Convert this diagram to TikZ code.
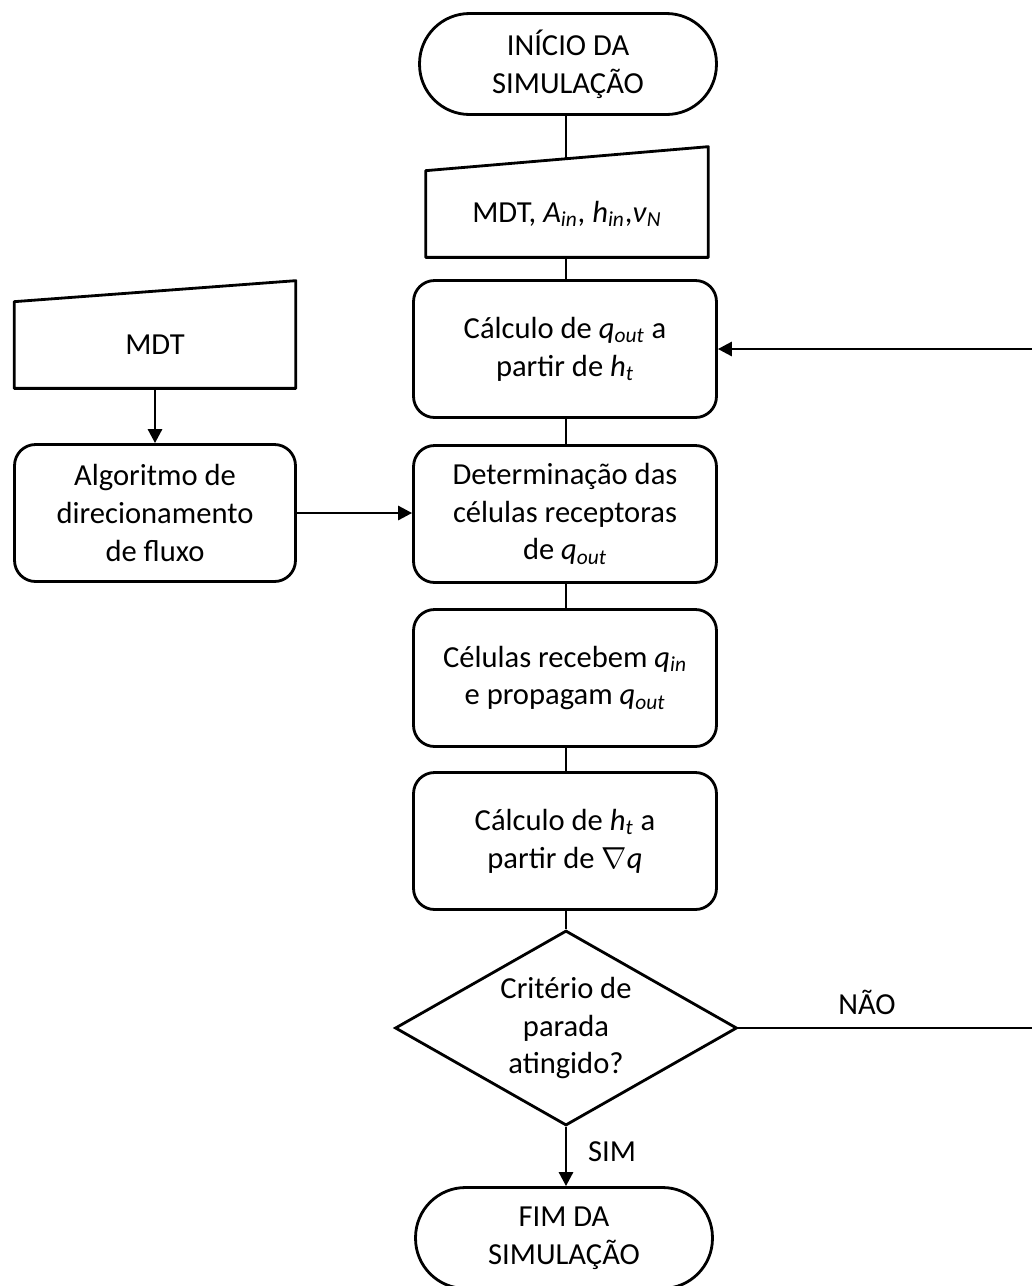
\documentclass[tikz,border=0pt]{standalone}
\usepackage{fontspec}
\setmainfont{Carlito}
\usetikzlibrary{shapes.geometric,arrows.meta}

% italic variable with italic subscript
\newcommand{\varsub}[2]{\textit{#1}\textsubscript{\textit{#2}}}

\begin{document}
\begin{tikzpicture}[x=0.02cm,y=-0.02cm,
  every node/.style={font=\fontsize{17.4pt}{21.5pt}\selectfont, align=center, inner sep=0pt},
  line/.style={line width=1.6pt, line join=round},
  arrow/.style={line, -{Triangle[length=8pt,width=8pt]}},
  procbox/.style={draw, line width=1.6pt, rounded corners=0.42cm,
    minimum width=6.06cm, minimum height=2.74cm},
  terminal/.style={draw, line width=1.6pt, rounded corners=1.0cm,
    minimum width=5.94cm, minimum height=2.02cm},
  inputbox/.style={minimum width=5.64cm, minimum height=1.72cm},
  decision/.style={draw, line width=1.6pt, diamond, aspect=1.754,
    minimum width=6.84cm, minimum height=3.9cm},
  tag/.style={}
]
\useasboundingbox (0,0) rectangle (1032,1286);
\clip (0,0) rectangle (1032,1286);

% main column
\node[terminal] (start) at (568,64) {INÍCIO DA\\SIMULAÇÃO};

\node[inputbox] (in1) at (567,214) {MDT, \varsub{A}{in}, \varsub{h}{in},\textit{ν}\textsubscript{\textit{N}}};
\draw[line] (in1.north west) -- ([yshift=0.48cm]in1.north east)
  -- (in1.south east) -- (in1.south west) -- cycle;
\coordinate (in1top) at (566,160);

\node[procbox] (calcq) at (565,349) {Cálculo de \varsub{q}{out} a\\partir de \varsub{h}{t}};
\node[procbox] (dest) at (565,514) {Determinação das\\células receptoras\\de \varsub{q}{out}};
\node[procbox] (prop) at (565,678) {Células recebem \varsub{q}{in}\\e propagam \varsub{q}{out}};
\node[procbox] (calch) at (565,841) {Cálculo de \varsub{h}{t} a\\partir de $\nabla$\textit{q}};
\node[decision] (crit) at (566,1028) {Critério de\\parada\\atingido?};
\node[terminal] (fim) at (564,1238) {FIM DA\\SIMULAÇÃO};

% side branch
\node[inputbox, minimum width=5.62cm] (in2) at (155,345) {MDT};
\draw[line] (in2.north west) -- ([yshift=0.42cm]in2.north east)
  -- (in2.south east) -- (in2.south west) -- cycle;
\node[procbox, minimum width=5.62cm] (algo) at (155,513) {Algoritmo de\\direcionamento\\de fluxo};

% labels
\node[tag] (nao) at (867,1002) {NÃO};
\node[tag] (sim) at (612,1152) {SIM};

% connectors
\draw[line] (start.south -| in1top) -- (in1top);
\draw[line] (in1.south -| in1top) -- (calcq.north -| in1top);
\draw[line] (calcq.south -| in1top) -- (dest.north -| in1top);
\draw[line] (dest.south -| in1top) -- (prop.north -| in1top);
\draw[line] (prop.south -| in1top) -- (calch.north -| in1top);
\draw[line] (calch.south -| in1top) -- (crit.north);
\draw[arrow] (crit.south) -- (fim.north -| crit.south);
\draw[arrow] (in2.south -| algo.north) -- (algo.north);
\draw[arrow] (algo.east) -- (dest.west |- algo.east);

% loop back when the criterion is not met
\coordinate (loop) at (1045,1028);
\draw[arrow] (crit.east) -- (loop) |- (calcq.east);
\end{tikzpicture}
\end{document}
